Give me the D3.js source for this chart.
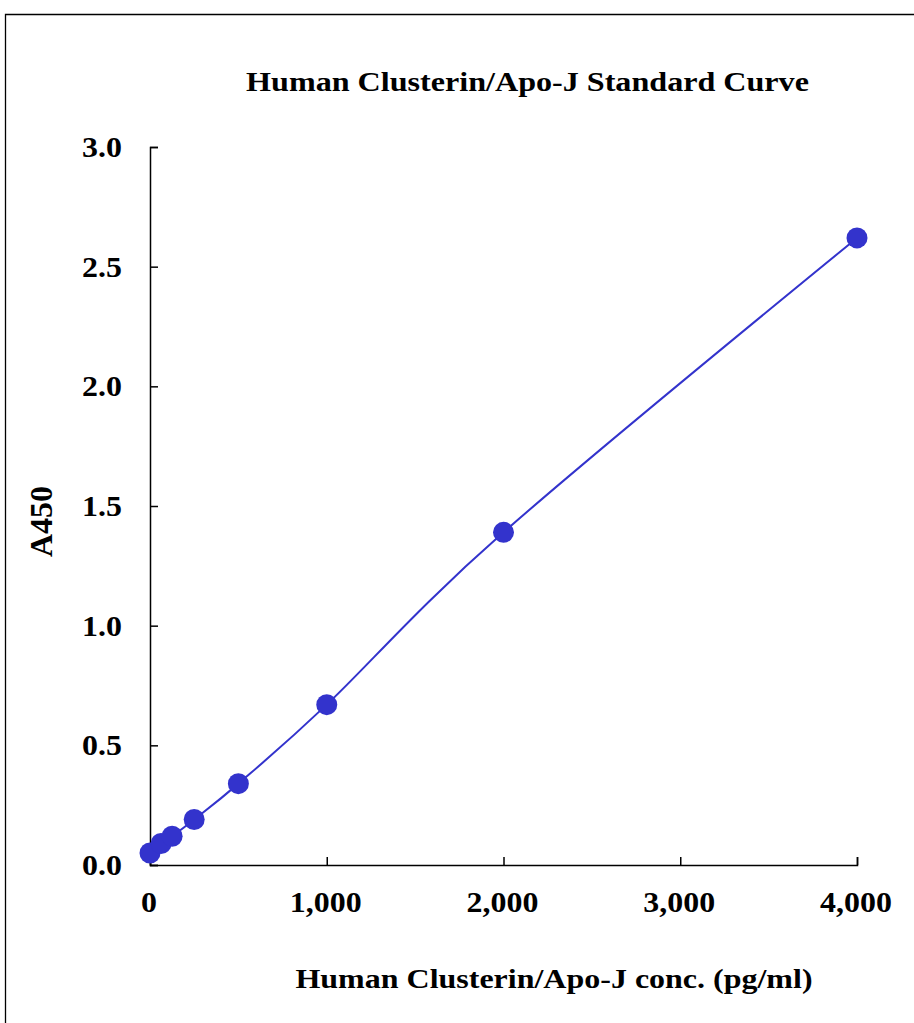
<!DOCTYPE html>
<html><head><meta charset="utf-8">
<script src="https://cdn.jsdelivr.net/npm/d3@7"></script>
<style>html,body{margin:0;padding:0;background:#fff;}</style>
</head><body>
<script>
const concentrations = [0, 62.5, 125, 250, 500, 1000, 2000, 4000];
const absorbance = [0.05, 0.09, 0.12, 0.19, 0.34, 0.67, 1.39, 2.62];
const xTicks = [0, 1000, 2000, 3000, 4000];
const yTicks = [0, 0.5, 1.0, 1.5, 2.0, 2.5, 3.0];
const titleText = "Human Clusterin/Apo-J Standard Curve";
const xLabel = "Human Clusterin/Apo-J conc. (pg/ml)";
const yLabel = "A450";

const W = 914, H = 1023;
const svg = d3.select("body").append("svg").attr("width", W).attr("height", H);
svg.append("rect").attr("width", W).attr("height", H).attr("fill", "#fff");
// frame
svg.append("path").attr("d", `M5.5,${H}V14.5H${W}`).attr("fill","none").attr("stroke","#000").attr("stroke-width",1.3);

const x = d3.scaleLinear().domain([0, 4000]).range([150, 857]);
const y = d3.scaleLinear().domain([0, 3]).range([865, 147]);
const font = "'Liberation Serif','Times New Roman',serif";
const col = "#3333CC";

const xAxis = svg.append("g").attr("transform", `translate(0,${y(0)})`)
  .call(d3.axisTop(x).tickValues(xTicks).tickSize(8));
xAxis.selectAll("text").remove();
const yAxis = svg.append("g").attr("transform", `translate(${x(0)},0)`)
  .call(d3.axisRight(y).tickValues(yTicks).tickSize(8));
yAxis.selectAll("text").remove();
[xAxis, yAxis].forEach(g => {
  g.select(".domain").attr("stroke", "#000").attr("stroke-width", 1.5);
  g.selectAll(".tick line").attr("stroke", "#000").attr("stroke-width", 1.5);
});

function stretched(g, tx, ty, sx, size, anchor, txt) {
  return g.append("text")
    .attr("transform", `translate(${tx},${ty}) scale(${sx},1)`)
    .attr("text-anchor", anchor)
    .attr("font-family", font).attr("font-weight", "bold").attr("font-size", size)
    .text(txt);
}

const xt = svg.append("g");
xTicks.forEach(d => stretched(xt, x(d) - 1, 912, 1.12, 28.5, "middle", d3.format(",")(d)));
const yt = svg.append("g");
yTicks.forEach(d => stretched(yt, 122, y(d) + 10, 1.12, 28.5, "end", d3.format(".1f")(d)));

stretched(svg, 527.5, 91, 1.19, 27, "middle", titleText);
stretched(svg, 554, 988, 1.185, 27, "middle", xLabel);
svg.append("text").attr("transform", "translate(52,521.5) rotate(-90)").attr("text-anchor", "middle")
  .attr("font-family", font).attr("font-weight", "bold").attr("font-size", 32).text(yLabel);

const pts = concentrations.map((c, i) => [c, absorbance[i]]);
const line = d3.line().x(d => x(d[0])).y(d => y(d[1])).curve(d3.curveCatmullRom.alpha(0));
svg.append("path").datum(pts).attr("d", line).attr("fill", "none").attr("stroke", col).attr("stroke-width", 2);
svg.append("g").selectAll("circle").data(pts).join("circle")
  .attr("cx", d => x(d[0])).attr("cy", d => y(d[1])).attr("r", 10.5).attr("fill", col);
</script>
</body></html>
